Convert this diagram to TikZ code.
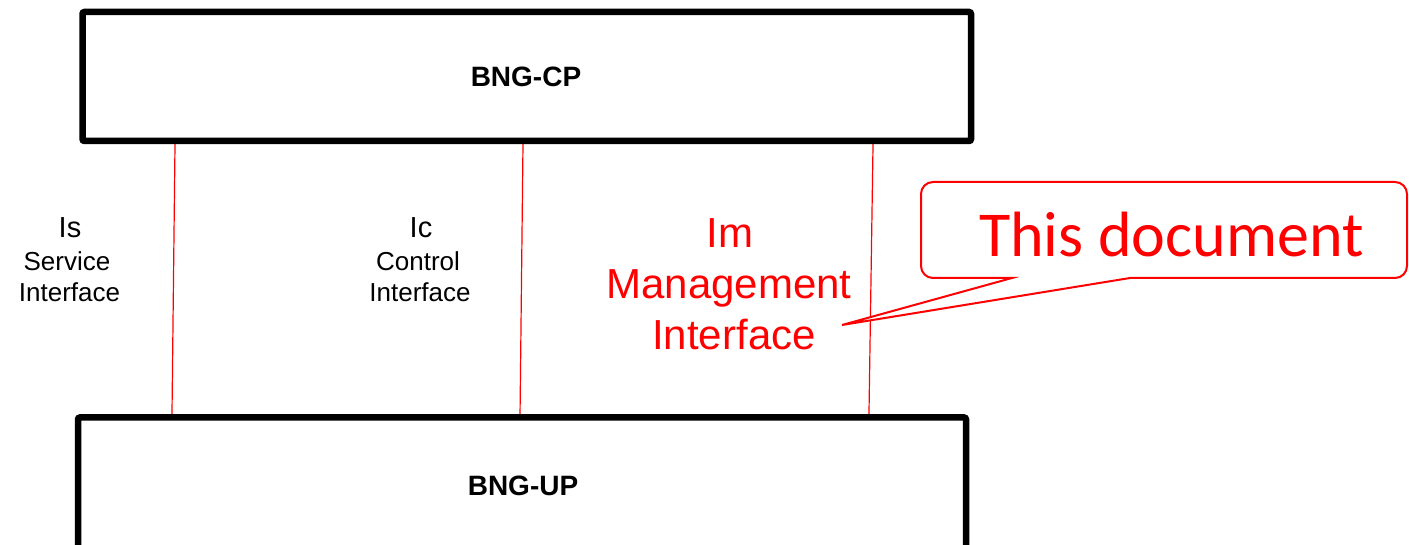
\documentclass[tikz,border=0pt]{standalone}
\usepackage{fontspec}
\setmainfont{Liberation Sans}
\newfontfamily\calib{Carlito}
\usetikzlibrary{calc}
\pgfdeclarelayer{bg}
\pgfsetlayers{bg,main}
\tikzset{
  block/.style={draw=black,line width=6.5pt,fill=white,rounded corners=2pt,inner sep=0pt},
  iface/.style={draw=red,line width=1.2pt},
  txt/.style={anchor=base,inner sep=0pt,text=black},
  rtxt/.style={anchor=base,inner sep=0pt,text=red},
  callout/.style={draw=red,line width=2pt,fill=white,line join=miter}
}
\begin{document}
\begin{tikzpicture}[x=1pt,y=1pt]
\useasboundingbox (0,0) rectangle (1409,545);
% blocks
\node[block,minimum width=888.5pt,minimum height=129pt] (cp) at (526.75,468.5) {};
\node[block,minimum width=888pt,minimum height=135pt] (up) at (522,60) {};
\node[txt,font=\fontsize{28}{32}\selectfont\bfseries] (cpl) at (526,458) {BNG-CP};
\node[txt,font=\fontsize{28}{32}\selectfont\bfseries] (upl) at (523,49) {BNG-UP};
% interface lines
\begin{pgfonlayer}{bg}
\draw[iface] ($(cp.south west)!0.1070!(cp.south east)$) -- ($(up.north west)!0.1087!(up.north east)$);
\draw[iface] ($(cp.south west)!0.4958!(cp.south east)$) -- ($(up.north west)!0.4978!(up.north east)$);
\draw[iface] ($(cp.south west)!0.8869!(cp.south east)$) -- ($(up.north west)!0.8879!(up.north east)$);
\end{pgfonlayer}
% labels
\node[txt,font=\fontsize{29}{34}\selectfont] (is) at (70,307) {Is};
\node[txt,font=\fontsize{26}{30}\selectfont] (is2) at (67,274) {Service};
\node[txt,font=\fontsize{26}{30}\selectfont] (is3) at (69.5,243) {Interface};
\node[txt,font=\fontsize{29}{34}\selectfont] (ic) at (421,307) {Ic};
\node[txt,font=\fontsize{26}{30}\selectfont] (ic2) at (418,274) {Control};
\node[txt,font=\fontsize{26}{30}\selectfont] (ic3) at (420,243) {Interface};
\node[rtxt,font=\fontsize{42}{48}\selectfont] (im) at (730,297) {Im};
\node[rtxt,font=\fontsize{42}{48}\selectfont] (im2) at (729,246) {Management};
\node[rtxt,font=\fontsize{42}{48}\selectfont] (im3) at (734,195) {Interface};
% callout
\coordinate (tip) at (842,220);
\draw[callout] (1012,267) -- (tip) -- (1130,267) -- (1395,267)
  arc[start angle=-90,end angle=0,radius=12pt] -- (1407,351)
  arc[start angle=0,end angle=90,radius=12pt] -- (933,363)
  arc[start angle=90,end angle=180,radius=12pt] -- (921,279)
  arc[start angle=180,end angle=270,radius=12pt] -- cycle;
\node[anchor=base west,inner sep=0pt,text=red,font=\calib\fontsize{64}{70}\selectfont] (doc) at (979,288) {This document};
\end{tikzpicture}
\end{document}
